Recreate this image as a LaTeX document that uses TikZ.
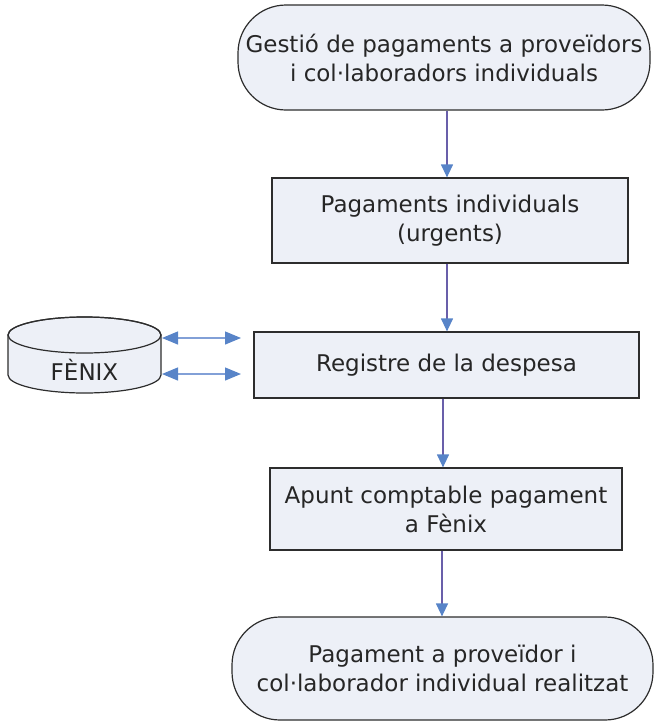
\documentclass[tikz,border=0pt]{standalone}
\usepackage{fontspec}
\setmainfont{DejaVu Sans}
\usetikzlibrary{arrows.meta,calc}
\definecolor{boxfill}{RGB}{237,240,247}
\definecolor{edgegray}{RGB}{45,45,45}
\definecolor{flowline}{RGB}{105,95,170}
\definecolor{tipblue}{RGB}{88,132,200}
\definecolor{linkblue}{RGB}{130,160,215}
\begin{document}
\begin{tikzpicture}[x=1pt, y=-1pt,
    every node/.style={font=\fontsize{23}{29}\selectfont, text=black!85, align=center, inner sep=0pt},
    proc/.style={draw=edgegray, line width=1.2pt, fill=boxfill},
    term/.style={proc, rounded corners=48pt},
    tipv/.tip={Triangle[length=13pt, width=12pt, fill=tipblue, color=tipblue]},
    tiph/.tip={Triangle[length=16pt, width=13pt, fill=tipblue, color=tipblue]},
    flow/.style={draw=flowline, line width=1.2pt, -tipv},
    link/.style={draw=linkblue, line width=1.2pt, tiph-tiph}]
  \useasboundingbox (0,0) rectangle (659,724);
  %
  % main column
  \node[term, minimum width=412pt, minimum height=105pt] (gestio) at (444,57.5)
    {Gestió de pagaments a proveïdors\\ i col·laboradors individuals};
  \node[proc, minimum width=356pt, minimum height=85pt] (pagaments) at (450,220.5)
    {Pagaments individuals\\ (urgents)};
  \node[proc, minimum width=385pt, minimum height=66pt] (registre) at (446.5,365)
    {Registre de la despesa};
  \node[proc, minimum width=352pt, minimum height=82pt] (apunt) at (446,509)
    {Apunt comptable pagament\\ a Fènix};
  \node[term, minimum width=421pt, minimum height=103pt] (realitzat) at (442.5,668.5)
    {Pagament a proveïdor i\\ col·laborador individual realitzat};
  %
  \draw[flow] (gestio.south -| 447,0) -- (pagaments.north -| 447,0);
  \draw[flow] (pagaments.south -| 447,0) -- (registre.north -| 447,0);
  \draw[flow] (registre.south -| 443,0) -- (apunt.north -| 443,0);
  \draw[flow] (apunt.south -| 442,0) -- (realitzat.north -| 442,0);
  %
  % database
  \path[proc] (8,335) -- (8,375) arc[start angle=180, end angle=360, x radius=76.5pt, y radius=18pt]
    -- (161,335) arc[start angle=0, end angle=180, x radius=76.5pt, y radius=18pt] -- cycle;
  \draw[edgegray, line width=1.2pt] (84.5,335) ellipse [x radius=76.5pt, y radius=18pt];
  \node (fenix) at (84.5,370) {FÈNIX};
  %
  \coordinate (fenixUp) at (162,338);
  \coordinate (fenixDown) at (162,374);
  \coordinate (regUp) at (241,338);
  \coordinate (regDown) at (241,374);
  \draw[link] (fenixUp) -- (regUp);
  \draw[link] (fenixDown) -- (regDown);
\end{tikzpicture}
\end{document}
